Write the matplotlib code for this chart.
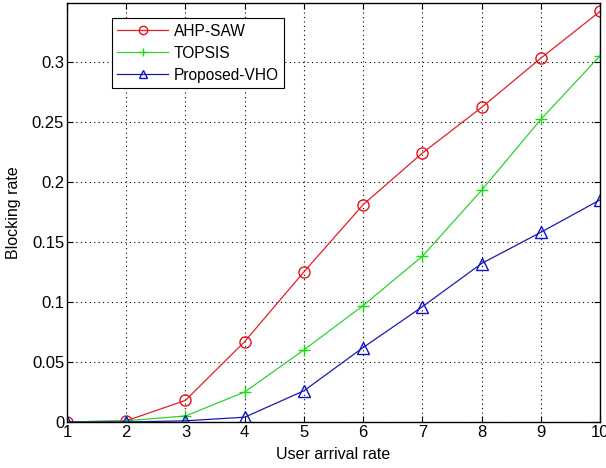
import matplotlib
matplotlib.use("Agg")
import matplotlib.pyplot as plt

x = [1, 2, 3, 4, 5, 6, 7, 8, 9, 10]
ahp_saw = [0.0, 0.001, 0.018, 0.067, 0.125, 0.181, 0.224, 0.262, 0.303, 0.342]
topsis = [0.0, 0.001, 0.005, 0.025, 0.060, 0.097, 0.138, 0.193, 0.252, 0.305]
proposed = [0.0, 0.0, 0.001, 0.004, 0.026, 0.062, 0.096, 0.132, 0.158, 0.185]
yticks = [0, 0.05, 0.1, 0.15, 0.2, 0.25, 0.3]
ytick_labels = ["0", "0.05", "0.1", "0.15", "0.2", "0.25", "0.3"]

plt.rcParams['font.family'] = ['Liberation Sans', 'DejaVu Sans']
fig = plt.figure(figsize=(6.06, 4.68), dpi=100)
ax = fig.add_axes([0.1106, 0.0983, 0.8795, 0.8953])

ax.plot(x, ahp_saw, color='#e0202a', lw=0.9, marker='o', ms=8, mfc='none', mec='#e8101a', mew=1.0, label='AHP-SAW')
ax.plot(x, topsis, color='#30d030', lw=0.9, marker='+', ms=9, mec='#10e010', mew=1.0, label='TOPSIS')
ax.plot(x, proposed, color='#1a1ab0', lw=0.9, marker='^', ms=8, mfc='none', mec='#1010c8', mew=1.0, label='Proposed-VHO')

ax.set_xlim(1, 10)
ax.set_ylim(0, 0.349)
ax.set_xticks(x)
ax.set_yticks(yticks)
ax.set_yticklabels(ytick_labels)
ax.tick_params(direction='in', top=True, right=True, labelsize=12, length=4, pad=2)
ax.grid(True, linestyle=(0, (1, 3)), color='black', lw=0.8)
for s in ax.spines.values():
    s.set_linewidth(1.0)

ax.set_xlabel('User arrival rate', fontsize=11.5, labelpad=5)
ax.set_ylabel('Blocking rate', fontsize=11.5, labelpad=8)

leg = ax.legend(loc='upper left', bbox_to_anchor=(0.0835, 0.964), fontsize=11.2, fancybox=False,
                framealpha=1, edgecolor='black', handlelength=3.3, borderpad=0.35, labelspacing=0.45,
                handletextpad=0.35, borderaxespad=0)
leg.get_frame().set_linewidth(0.8)
for h in leg.legend_handles:
    h.set_markersize(6)

fig.savefig('out.png', dpi=100)
